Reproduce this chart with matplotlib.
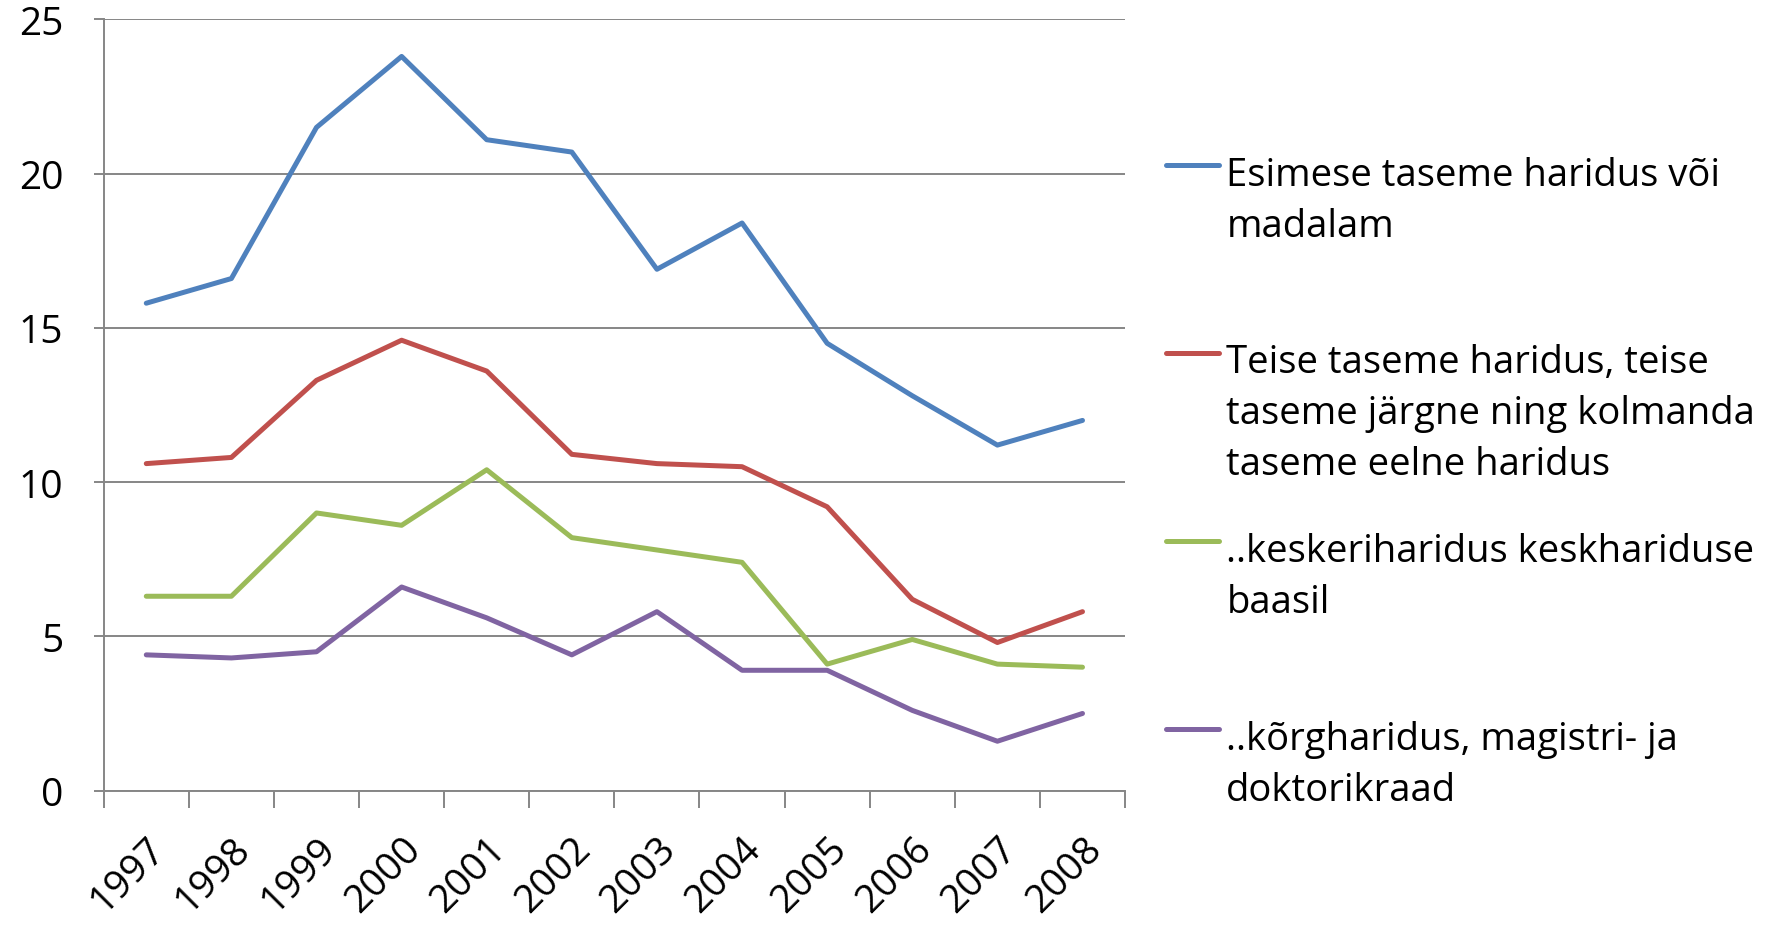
import numpy as np
import matplotlib.pyplot as plt
from matplotlib.lines import Line2D

plt.rcParams['font.family'] = ['Open Sans', 'DejaVu Sans']

years = ['1997', '1998', '1999', '2000', '2001', '2002',
         '2003', '2004', '2005', '2006', '2007', '2008']

esimese = [15.8, 16.6, 21.5, 23.8, 21.1, 20.7, 16.9, 18.4, 14.5, 12.8, 11.2, 12.0]
teise = [10.6, 10.8, 13.3, 14.6, 13.6, 10.9, 10.6, 10.5, 9.2, 6.2, 4.8, 5.8]
kesk = [6.3, 6.3, 9.0, 8.6, 10.4, 8.2, 7.8, 7.4, 4.1, 4.9, 4.1, 4.0]
korg = [4.4, 4.3, 4.5, 6.6, 5.6, 4.4, 5.8, 3.9, 3.9, 2.6, 1.6, 2.5]

labels = ['Esimese taseme haridus või\nmadalam',
          'Teise taseme haridus, teise\ntaseme järgne ning kolmanda\ntaseme eelne haridus',
          '..keskeriharidus keskhariduse\nbaasil',
          '..kõrgharidus, magistri- ja\ndoktorikraad']
colors = ['#4F81BD', '#C0504D', '#9BBB59', '#8064A2']
series = [esimese, teise, kesk, korg]

fig = plt.figure(figsize=(17.67, 9.28), dpi=100)
ax = fig.add_axes([0.0587, 0.147, 0.578, 0.831])

x = np.arange(len(years)) + 0.5
for vals, c in zip(series, colors):
    ax.plot(x, vals, color=c, lw=3.6, solid_capstyle='round', zorder=3)

grid_c = '#868686'
ax.set_xlim(0, len(years))
ax.set_ylim(0, 25)
ax.set_yticks([0, 5, 10, 15, 20, 25])
ax.yaxis.grid(True, color=grid_c, lw=1.4)
ax.set_axisbelow(True)

# tick marks between categories, year labels under the category centres
ax.set_xticks(np.arange(len(years) + 1))
ax.set_xticklabels([])
ax.set_xticks(x, minor=True)
ax.set_xticklabels(years, minor=True, rotation=45, ha='right', va='top',
                   rotation_mode='anchor', fontsize=28)
ax.tick_params(axis='x', which='minor', length=0, pad=28)
ax.tick_params(axis='x', which='major', length=12, width=1.4, color=grid_c)
ax.tick_params(axis='y', length=7, width=1.4, color=grid_c, labelsize=28, pad=22)

for s in ['top', 'right']:
    ax.spines[s].set_visible(False)
for s in ['left', 'bottom']:
    ax.spines[s].set_color(grid_c)
    ax.spines[s].set_linewidth(1.4)

# legend drawn by hand so the line sits beside the first text row
leg_y = [0.179, 0.381, 0.584, 0.787]
for lab, c, yy in zip(labels, colors, leg_y):
    fig.add_artist(Line2D([0.660, 0.690], [1 - yy, 1 - yy], color=c, lw=3.6,
                          solid_capstyle='round', transform=fig.transFigure))
    fig.text(0.694, 1 - yy + 0.010, lab, fontsize=27.5, va='top', ha='left',
             linespacing=1.45)

fig.savefig('out.png')
